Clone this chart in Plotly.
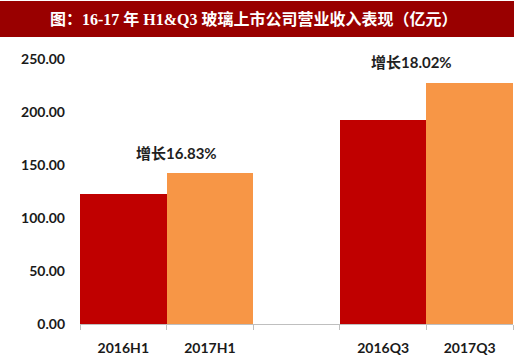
import plotly.graph_objects as go

# ---- data ----
categories = ["2016H1", "2017H1", " ", "2016Q3", "2017Q3"]
revenue = [122.3, 142.9, None, 192.7, 227.4]
bar_colors = ["#C00000", "#F79646", "#FFFFFF", "#C00000", "#F79646"]
growth_labels = ["增长16.83%", "增长18.02%"]
growth_x = [0.62, 3.33]
growth_y = [161, 247]
y_ticks = [0, 50, 100, 150, 200, 250]
y_tick_text = ["0.00", "50.00", "100.00", "150.00", "200.00", "250.00"]
title_text = "图：16-17 年 H1&Q3 玻璃上市公司营业收入表现（亿元）"

W, H = 520, 358
L, R, T, B = 80, 7, 59, 34
pw, ph = W - L - R, H - T - B


def px_to_paper_x(px):
    return (px - L) / pw


def px_to_paper_y(py):
    return (H - B - py) / ph


fig = go.Figure()
fig.add_trace(go.Bar(
    x=categories, y=revenue,
    marker=dict(color=bar_colors, line=dict(width=0)),
    hoverinfo="skip",
))

annotations = []
for txt, gx, gy in zip(growth_labels, growth_x, growth_y):
    annotations.append(dict(
        x=gx, y=gy, xref="x", yref="y", text="<b>" + txt + "</b>", showarrow=False,
        font=dict(family="Lato, Noto Sans CJK SC", size=15, color="#1f1f1f"),
        xanchor="center", yanchor="middle",
    ))

annotations.append(dict(
    x=px_to_paper_x(254), y=px_to_paper_y(19), xref="paper", yref="paper",
    text="<b>" + title_text + "</b>", showarrow=False,
    font=dict(family="Liberation Serif, Noto Sans CJK SC", size=16, color="#FFFFFF"),
    xanchor="center", yanchor="middle",
))

fig.update_layout(
    width=W, height=H,
    margin=dict(l=L, r=R, t=T, b=B, autoexpand=False),
    paper_bgcolor="white", plot_bgcolor="white",
    showlegend=False,
    bargap=0,
    annotations=annotations,
    shapes=[dict(
        type="rect", xref="paper", yref="paper",
        x0=px_to_paper_x(0), x1=px_to_paper_x(514),
        y0=px_to_paper_y(37), y1=px_to_paper_y(1),
        fillcolor="#990000", line=dict(width=0), layer="above",
    )],
    xaxis=dict(
        type="category", showgrid=False, zeroline=False,
        showline=True, linecolor="#BFBFBF", linewidth=1,
        ticks="outside", tickson="boundaries", ticklen=5, tickcolor="#BFBFBF",
        tickfont=dict(family="Lato", size=14, color="#1a1a1a", weight="bold"),
        ticklabelstandoff=11, automargin=False,
    ),
    yaxis=dict(
        range=[0, 250], showgrid=False, zeroline=False, showline=False,
        tickvals=y_ticks, ticktext=y_tick_text, ticks="",
        tickfont=dict(family="Lato", size=14, color="#1a1a1a", weight="bold"),
        ticklabelstandoff=14, automargin=False,
    ),
)

fig.write_html(
    "out.html",
    config={"displayModeBar": False, "staticPlot": True},
    post_script="document.body.style.margin='0';document.body.style.overflow='hidden';",
)
